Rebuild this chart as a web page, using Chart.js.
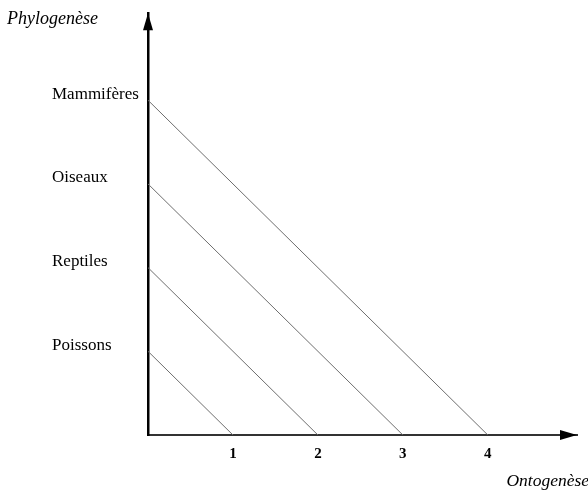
<!DOCTYPE html>
<html>
<head>
<meta charset="utf-8">
<script src="https://cdn.jsdelivr.net/npm/chart.js@4/dist/chart.umd.min.js"></script>
<style>
  html, body { margin: 0; padding: 0; background: #fff; }
  #wrap { width: 588px; height: 490px; }
</style>
</head>
<body>
<div id="wrap"><canvas id="myChart" width="588" height="490"></canvas></div>
<script>
// groups on the phylogeny axis, bottom to top
const groups = ["Poissons", "Reptiles", "Oiseaux", "Mammifères"];
const groupLevels = [1, 2, 3, 4];
// where each line meets the ontogeny axis
const ontoEnds = [1, 2, 3, 4];
const xTicks = [1, 2, 3, 4];

const serif = "'Liberation Serif', 'DejaVu Serif', serif";

// arrows + axis names
const axisDeco = {
  id: "axisDeco",
  afterDraw(chart) {
    const { ctx, chartArea } = chart;
    const { left, right, top, bottom } = chartArea;
    ctx.save();
    ctx.fillStyle = "#000";
    // y arrow
    ctx.beginPath();
    ctx.moveTo(left, top);
    ctx.lineTo(left - 5, top + 17);
    ctx.lineTo(left + 5, top + 17);
    ctx.closePath();
    ctx.fill();
    // x arrow
    ctx.beginPath();
    ctx.moveTo(right, bottom);
    ctx.lineTo(right - 17, bottom - 5);
    ctx.lineTo(right - 17, bottom + 5);
    ctx.closePath();
    ctx.fill();

    ctx.font = "italic 18px " + serif;
    ctx.textBaseline = "middle";
    ctx.textAlign = "left";
    ctx.fillText("Phylogenèse", 7, 19);
    ctx.font = "italic 17.5px " + serif;
    ctx.textAlign = "right";
    ctx.fillText("Ontogenèse", 589, 481);
    ctx.restore();
  }
};

const datasets = groups.map((g, i) => ({
  label: g,
  data: [
    { x: 0, y: groupLevels[i] },
    { x: ontoEnds[i], y: 0 }
  ],
  borderColor: "#6e6e6e",
  borderWidth: 1,
  pointRadius: 0,
  fill: false,
  tension: 0
}));

const ctx = document.getElementById("myChart").getContext("2d");
const myChart = new Chart(ctx, {
  type: "line",
  data: { datasets: datasets },
  options: {
    responsive: false,
    animation: false,
    layout: { padding: { left: 52, right: 11, top: 12, bottom: 0 } },
    plugins: {
      legend: { display: false },
      tooltip: { enabled: false }
    },
    scales: {
      x: {
        type: "linear",
        min: 0,
        max: 5.05,
        grid: { display: false, drawTicks: false },
        border: { display: true, color: "#333", width: 2 },
        afterBuildTicks: (scale) => {
          scale.ticks = xTicks.map((v) => ({ value: v }));
        },
        afterFit: (scale) => { scale.height = 55; },
        ticks: {
          padding: 10,
          color: "#000",
          font: { family: serif, size: 15, weight: "bold" },
          callback: (v) => String(v)
        }
      },
      y: {
        type: "linear",
        min: 0,
        max: 5.04,
        grid: { display: false, drawTicks: false },
        border: { display: true, color: "#000", width: 2.5 },
        afterBuildTicks: (scale) => {
          scale.ticks = groupLevels.map((v) => ({ value: v }));
        },
        afterFit: (scale) => { scale.width = 96; },
        ticks: {
          crossAlign: "far",
          labelOffset: -6,
          color: "#000",
          font: { family: serif, size: 17 },
          callback: (v) => groups[groupLevels.indexOf(v)]
        }
      }
    }
  },
  plugins: [axisDeco]
});
</script>
</body>
</html>
